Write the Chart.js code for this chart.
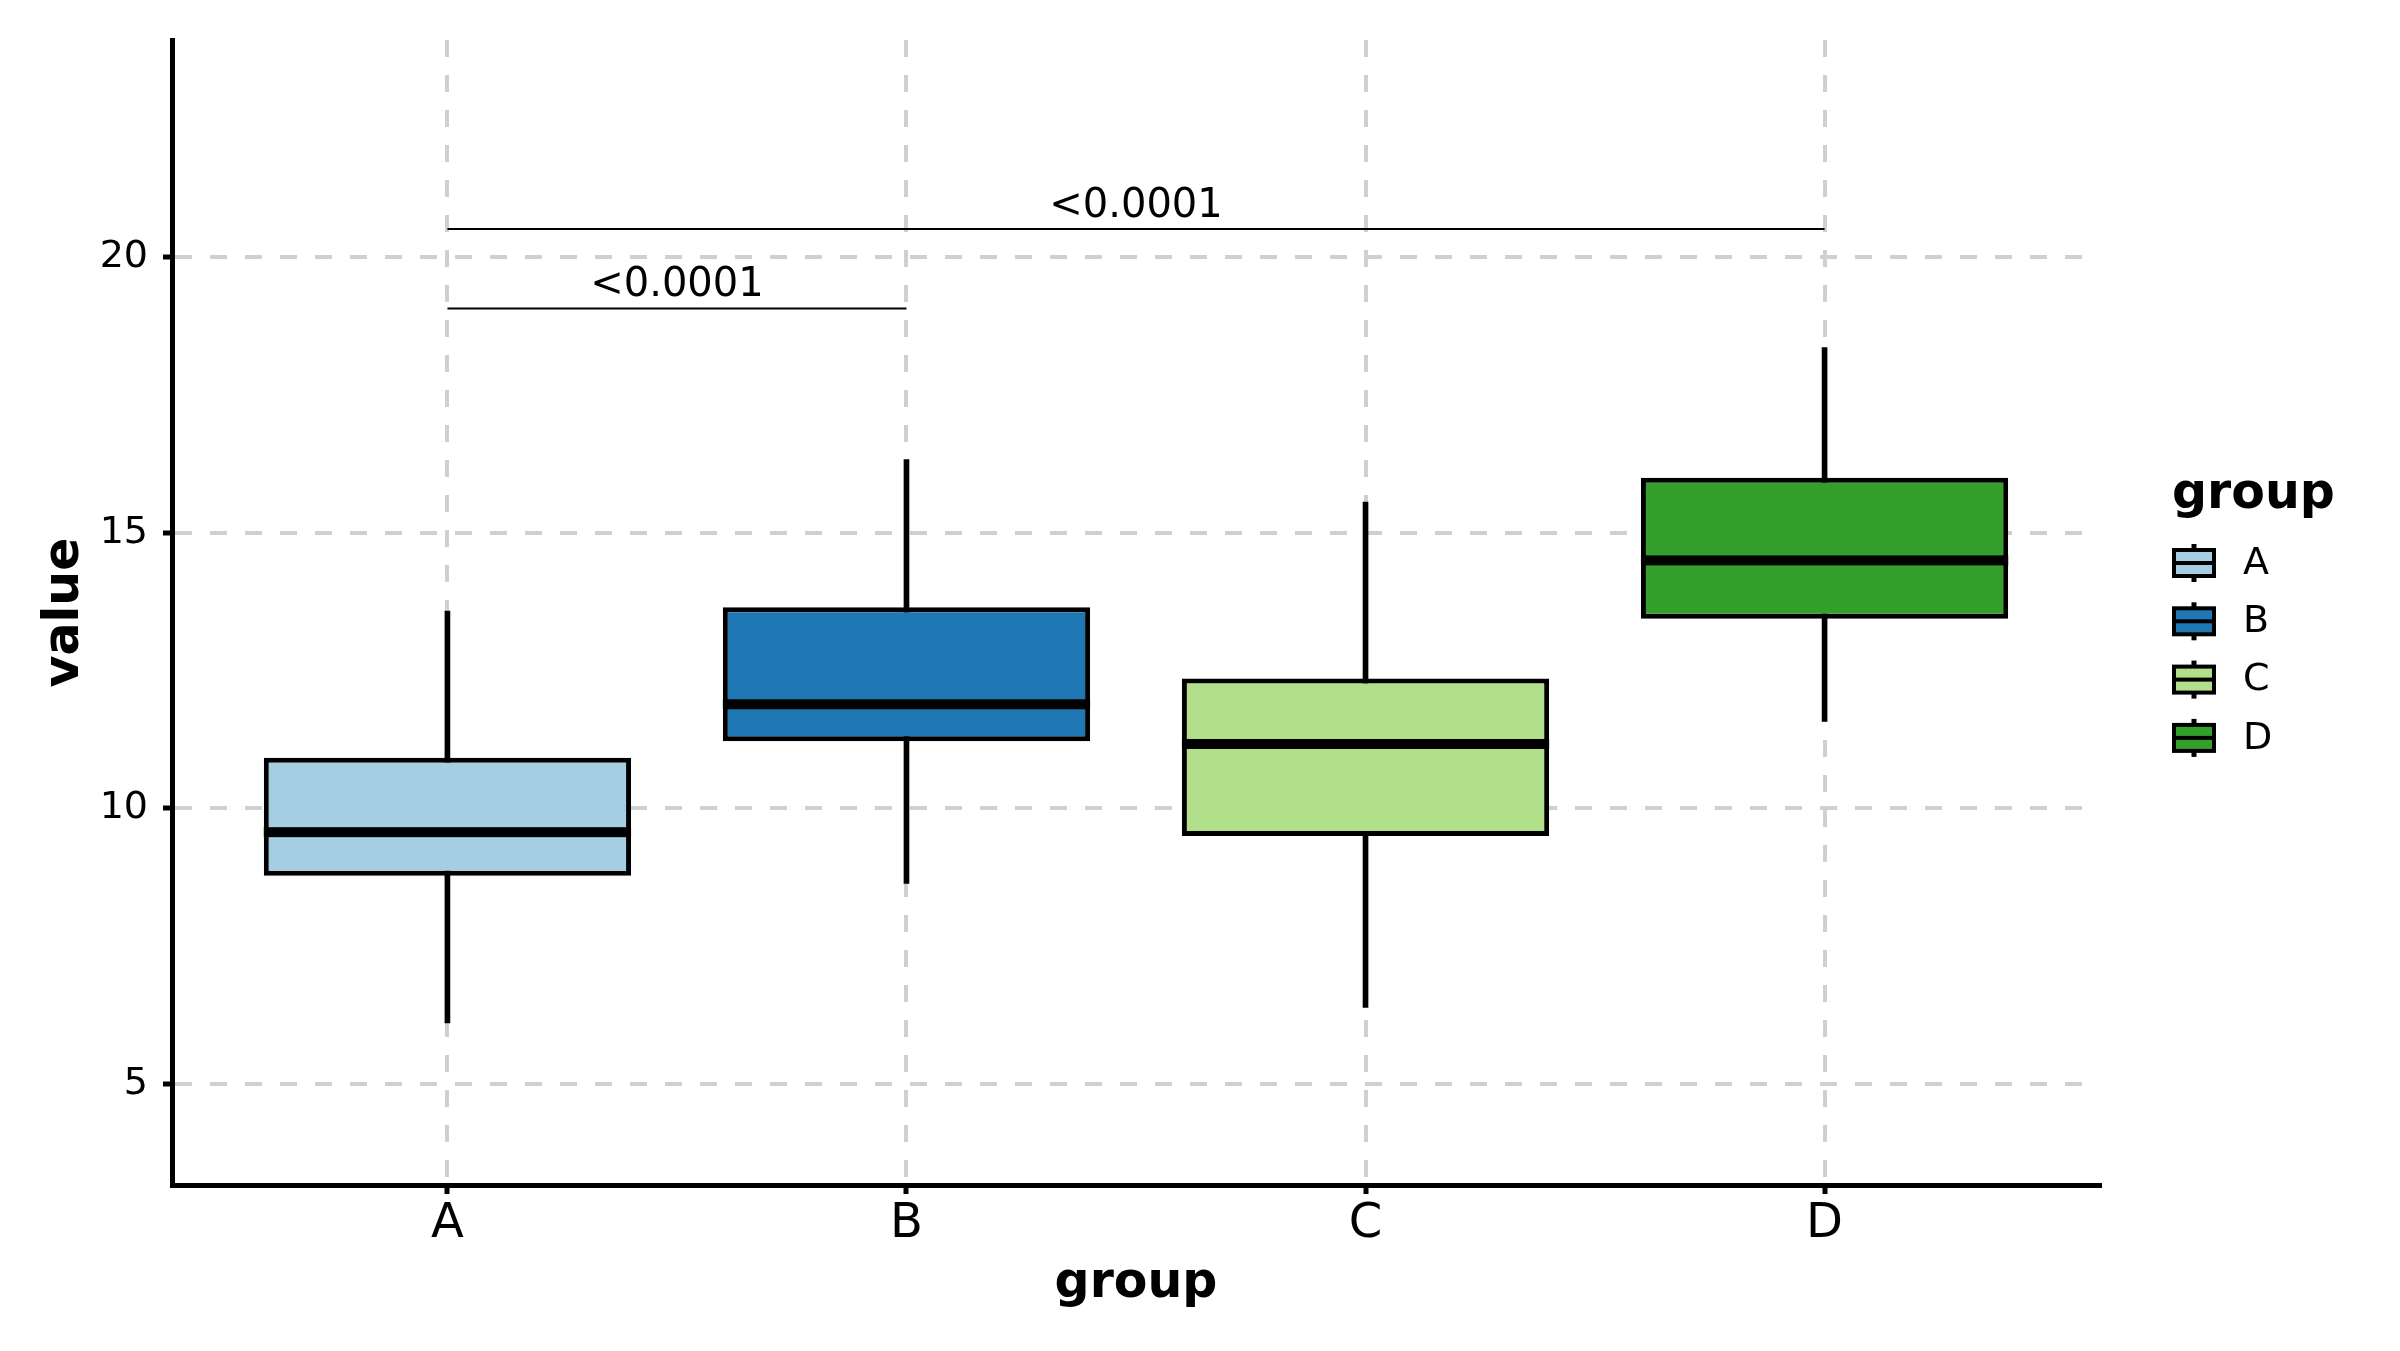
<!DOCTYPE html>
<html>
<head>
<meta charset="utf-8">
<script src="https://cdn.jsdelivr.net/npm/chart.js@4.4.1/dist/chart.umd.min.js"></script>
<style>
    body { margin: 0; background: #ffffff; }
    #wrap { width: 2400px; height: 1351px; }
</style>
</head>
<body>
<div id="wrap"><canvas id="boxChart"></canvas></div>
<script>
// -------------------------------
// DATA
// -------------------------------
const groups = ["A", "B", "C", "D"];
const whiskerLow = [6.11, 8.64, 6.39, 11.58];
const lowerQuartile = [8.78, 11.22, 9.50, 13.44];
const medians = [9.57, 11.89, 11.17, 14.50];
const upperQuartile = [10.92, 13.65, 12.36, 16.00];
const whiskerHigh = [13.58, 16.33, 15.56, 18.36];
const groupColors = ["#a6cee3", "#1f78b4", "#b2df8a", "#33a02c"];

const yTicks = [5, 10, 15, 20];

// significance brackets: [from, to], height, label
const bracketPairs = [[0, 1], [0, 3]];
const bracketHeights = [19.07, 20.51];
const bracketLabels = ["<0.0001", "<0.0001"];

const FONT = "'DejaVu Sans', sans-serif";

// -------------------------------
// DATASETS
// -------------------------------
const boxData = groups.map((g, i) => ({ x: i, y: [lowerQuartile[i], upperQuartile[i]] }));
const whiskerData = groups.map((g, i) => ({ x: i, y: [whiskerLow[i], whiskerHigh[i]] }));

const bracketSets = bracketPairs.map((p, k) => ({
    type: "line",
    data: [{ x: p[0], y: bracketHeights[k] }, { x: p[1], y: bracketHeights[k] }],
    borderColor: "#000000",
    borderWidth: 2,
    pointRadius: 0,
    order: -1
}));

// -------------------------------
// PLUGIN: medians, bracket labels, legend
// -------------------------------
const boxExtras = {
    id: "boxExtras",
    afterDatasetsDraw(chart) {
        const ctx = chart.ctx;
        const xs = chart.scales.x;
        const ys = chart.scales.y;
        const boxes = chart.getDatasetMeta(0).data;

        // ---- medians ----
        ctx.save();
        ctx.fillStyle = "#000000";
        boxes.forEach((bar, i) => {
            const y = ys.getPixelForValue(medians[i]);
            ctx.fillRect(bar.x - bar.width / 2, y - 5, bar.width, 10);
        });

        // ---- bracket labels ----
        ctx.font = `40px ${FONT}`;
        ctx.textAlign = "center";
        ctx.textBaseline = "alphabetic";
        bracketPairs.forEach((p, k) => {
            const x = xs.getPixelForValue((p[0] + p[1]) / 2);
            const y = ys.getPixelForValue(bracketHeights[k]);
            ctx.fillText(bracketLabels[k], x, y - 12);
        });
        ctx.restore();
    },
    afterDraw(chart) {
        const ctx = chart.ctx;
        const left = 2172;

        ctx.save();
        ctx.fillStyle = "#000000";
        ctx.font = `bold 49px ${FONT}`;
        ctx.textAlign = "left";
        ctx.textBaseline = "alphabetic";
        ctx.fillText("group", left, 508);

        groups.forEach((g, i) => {
            const cy = 563 + i * 58.3;
            const cx = left + 22;
            // whisker stubs
            ctx.fillRect(cx - 2.5, cy - 19, 5, 38);
            // box
            ctx.fillStyle = groupColors[i];
            ctx.fillRect(left + 2, cy - 13, 40, 26);
            ctx.strokeStyle = "#000000";
            ctx.lineWidth = 4;
            ctx.strokeRect(left + 2, cy - 13, 40, 26);
            // median
            ctx.fillStyle = "#000000";
            ctx.fillRect(left + 2, cy - 2, 40, 4);
            // label
            ctx.font = `38px ${FONT}`;
            ctx.textBaseline = "middle";
            ctx.fillText(g, left + 71, cy + 1);
        });
        ctx.restore();
    }
};

// -------------------------------
// CHART
// -------------------------------
const chart = new Chart(document.getElementById("boxChart"), {
    type: "bar",
    data: {
        datasets: [
            {
                label: "box",
                data: boxData,
                backgroundColor: groupColors,
                borderColor: "#000000",
                borderWidth: 5,
                borderSkipped: false,
                categoryPercentage: 1,
                barPercentage: 0.8,
                order: 0
            },
            {
                label: "whisker",
                data: whiskerData,
                backgroundColor: "#000000",
                borderWidth: 0,
                barThickness: 5,
                order: 1
            },
            ...bracketSets
        ]
    },
    options: {
        responsive: true,
        maintainAspectRatio: false,
        devicePixelRatio: 1,
        animation: false,
        grouped: false,
        layout: { padding: { top: 40, right: 300, bottom: 0, left: 0 } },
        plugins: {
            legend: { display: false },
            tooltip: { enabled: false }
        },
        scales: {
            x: {
                type: "linear",
                min: -0.6,
                max: 3.6,
                offset: false,
                afterBuildTicks: s => { s.ticks = groups.map((g, i) => ({ value: i })); },
                afterFit: s => { s.height = 166; },
                ticks: {
                    callback: v => groups[v],
                    color: "#000000",
                    font: { family: FONT, size: 48 },
                    padding: 2,
                    maxRotation: 0
                },
                grid: {
                    offset: false,
                    color: "#d0d0d0",
                    lineWidth: 4,
                    tickColor: "#000000",
                    tickWidth: 5,
                    tickLength: 9
                },
                border: { display: true, color: "#000000", width: 5, dash: [17, 18] },
                title: {
                    display: true,
                    text: "group",
                    color: "#000000",
                    font: { family: FONT, size: 49, weight: "bold" },
                    padding: { top: 0, bottom: 37 }
                }
            },
            y: {
                min: 3.17,
                max: 23.94,
                afterBuildTicks: s => { s.ticks = yTicks.map(v => ({ value: v })); },
                afterFit: s => { s.width = 172; },
                ticks: {
                    color: "#000000",
                    font: { family: FONT, size: 38 },
                    padding: 15
                },
                grid: {
                    color: "#d0d0d0",
                    lineWidth: 4,
                    tickColor: "#000000",
                    tickWidth: 5,
                    tickLength: 9
                },
                border: { display: true, color: "#000000", width: 5, dash: [17, 18] },
                title: {
                    display: true,
                    text: "value",
                    color: "#000000",
                    font: { family: FONT, size: 49, weight: "bold" },
                    padding: { top: 36, bottom: 0 }
                }
            }
        }
    },
    plugins: [boxExtras]
});
</script>
</body>
</html>
